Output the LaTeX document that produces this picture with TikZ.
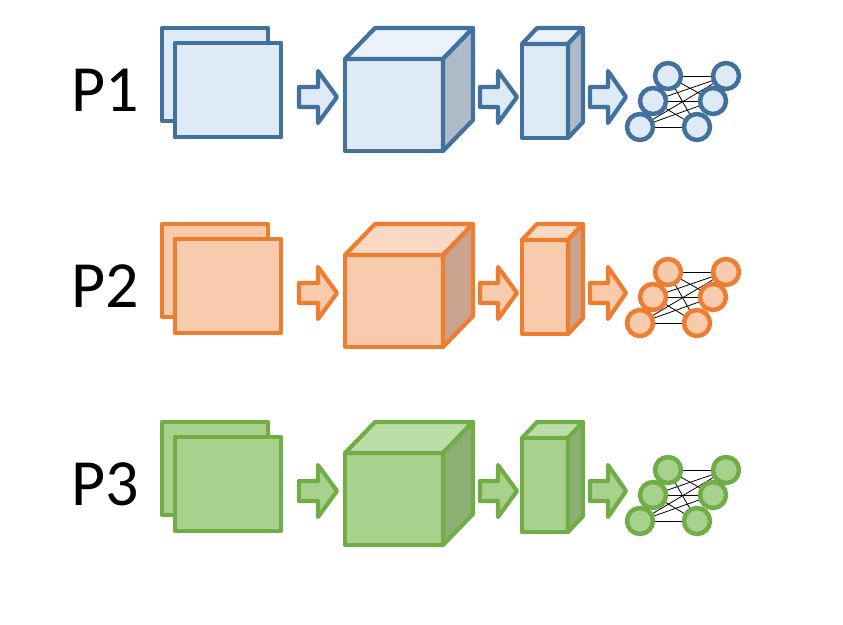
\documentclass[tikz,border=0pt]{standalone}
\usepackage{fontspec}
\setmainfont{Carlito}
\usetikzlibrary{backgrounds}

% edge, face, top and side colours of the three rows
\definecolor{edgeP1}{HTML}{41719C}
\definecolor{faceP1}{HTML}{DEEBF7}
\definecolor{topP1}{HTML}{EAF1FA}
\definecolor{sideP1}{HTML}{AEBAC8}
\definecolor{edgeP2}{HTML}{ED7D31}
\definecolor{faceP2}{HTML}{F8CBAD}
\definecolor{topP2}{HTML}{FAD9C4}
\definecolor{sideP2}{HTML}{C9A38B}
\definecolor{edgeP3}{HTML}{70AD47}
\definecolor{faceP3}{HTML}{A9D18E}
\definecolor{topP3}{HTML}{BCDCA8}
\definecolor{sideP3}{HTML}{8BAF74}

% block arrow: tail x, head base x, tip x
\newcommand\flowarrow[3]{%
  (#1,87) -- (#2,87) -- (#2,71) -- (#3,97) -- (#2,123) -- (#2,107) -- (#1,107) -- cycle}

\tikzset{
  part/.style={line width=4.2pt,line join=round},
  neuron/.style={circle,line width=4.5pt,minimum size=26pt,inner sep=0pt},
  link/.style={line width=0.8pt,black},
  rowlabel/.style={font=\fontsize{66}{66}\selectfont,inner sep=0pt}
}

\begin{document}
\begin{tikzpicture}[x=1pt,y=-1pt]
  \useasboundingbox (0,0) rectangle (843,624);
  \foreach \row/\dy in {1/0,2/196,3/394}{
   \begin{scope}[shift={(0,\dy)}]
   %label
   \node[rowlabel] (lab\row) at (105,90) {P\row};
   %input maps
   \draw[part,draw=edgeP\row,fill=faceP\row] (162,28) rectangle (268,121);
   \draw[part,draw=edgeP\row,fill=faceP\row] (175,43) rectangle (281,137);
   %arrows
   \draw[part,draw=edgeP\row,fill=faceP\row] \flowarrow{299}{318}{337};
   \draw[part,draw=edgeP\row,fill=faceP\row] \flowarrow{480}{498}{517};
   \draw[part,draw=edgeP\row,fill=faceP\row] \flowarrow{590}{608}{626};
   %big cube
   \draw[part,draw=edgeP\row,fill=faceP\row] (345,59) rectangle (443,151);
   \draw[part,draw=edgeP\row,fill=topP\row] (345,59) -- (375,28) -- (473,28) -- (443,59) -- cycle;
   \draw[part,draw=edgeP\row,fill=sideP\row] (443,59) -- (473,28) -- (473,120) -- (443,151) -- cycle;
   %thin block
   \draw[part,draw=edgeP\row,fill=faceP\row] (522,44) rectangle (568,138);
   \draw[part,draw=edgeP\row,fill=topP\row] (522,44) -- (537,28) -- (583,28) -- (568,44) -- cycle;
   \draw[part,draw=edgeP\row,fill=sideP\row] (568,44) -- (583,28) -- (583,122) -- (568,138) -- cycle;
   %network
   \node[neuron,draw=edgeP\row,fill=faceP\row] (tl\row) at (668,76) {};
   \node[neuron,draw=edgeP\row,fill=faceP\row] (ml\row) at (653,101) {};
   \node[neuron,draw=edgeP\row,fill=faceP\row] (bl\row) at (640,127) {};
   \node[neuron,draw=edgeP\row,fill=faceP\row] (tr\row) at (726,76) {};
   \node[neuron,draw=edgeP\row,fill=faceP\row] (mr\row) at (713,101) {};
   \node[neuron,draw=edgeP\row,fill=faceP\row] (br\row) at (697,127) {};
   \begin{scope}[on background layer]
    \foreach \a in {tl,ml,bl}
     \foreach \b in {tr,mr,br}
      \draw[link] (\a\row.center) -- (\b\row.center);
   \end{scope}
   \end{scope}
  }
\end{tikzpicture}
\end{document}
